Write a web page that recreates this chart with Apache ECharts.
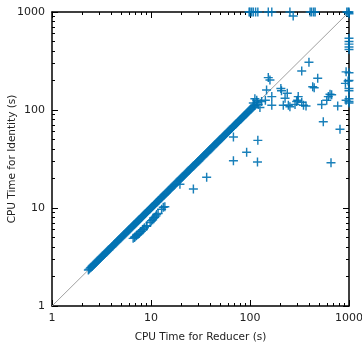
<!DOCTYPE html>
<html>
<head>
<meta charset="utf-8">
<script src="https://cdn.jsdelivr.net/npm/echarts@6/dist/echarts.min.js"></script>
<style>
html,body{margin:0;padding:0;background:#fff;}
#chart{width:362px;height:343px;}
</style>
</head>
<body>
<div id="chart"></div>
<script>
// Axis ticks
const majorTicks = [1, 10, 100, 1000];
const minorTicks = [2,3,4,5,6,7,8,9,20,30,40,50,60,70,80,90,200,300,400,500,600,700,800,900];
const xTitle = 'CPU Time for Reducer (s)';
const yTitle = 'CPU Time for Identity (s)';

// Main band: runs where both times agree (on the diagonal)
const diagonalPoints = [
 [2.33,2.33],[2.38,2.38],[2.44,2.44],[2.49,2.49],[2.55,2.55],[2.61,2.61],[2.67,2.67],[2.73,2.73],
 [2.8,2.8],[2.86,2.86],[2.93,2.93],[3.0,3.0],[3.07,3.07],[3.14,3.14],[3.21,3.21],[3.28,3.28],
 [3.36,3.36],[3.44,3.44],[3.52,3.52],[3.6,3.6],[3.68,3.68],[3.77,3.77],[3.86,3.86],[3.95,3.95],
 [4.04,4.04],[4.13,4.13],[4.23,4.23],[4.33,4.33],[4.43,4.43],[4.53,4.53],[4.63,4.63],[4.74,4.74],
 [4.85,4.85],[4.96,4.96],[5.08,5.08],[5.2,5.2],[5.32,5.32],[5.44,5.44],[5.57,5.57],[5.7,5.7],
 [5.83,5.83],[5.96,5.96],[6.1,6.1],[6.24,6.24],[6.39,6.39],[6.54,6.54],[6.69,6.69],[6.84,6.84],
 [7.0,7.0],[7.16,7.16],[7.33,7.33],[7.5,7.5],[7.68,7.68],[7.86,7.86],[8.04,8.04],[8.22,8.22],
 [8.41,8.41],[8.61,8.61],[8.81,8.81],[9.01,9.01],[9.22,9.22],[9.44,9.44],[9.66,9.66],[9.88,9.88],
 [10.1,10.1],[10.35,10.35],[10.6,10.6],[10.85,10.85],[11.1,11.1],[11.35,11.35],[11.6,11.6],[11.85,11.85],
 [12.1,12.1],[12.4,12.4],[12.7,12.7],[13.0,13.0],[13.3,13.3],[13.6,13.6],[13.9,13.9],[14.25,14.25],
 [14.6,14.6],[14.95,14.95],[15.3,15.3],[15.65,15.65],[16.0,16.0],[16.35,16.35],[16.7,16.7],[17.1,17.1],
 [17.5,17.5],[17.95,17.95],[18.4,18.4],[18.8,18.8],[19.2,19.2],[19.65,19.65],[20.1,20.1],[20.6,20.6],
 [21.1,21.1],[21.6,21.6],[22.1,22.1],[22.6,22.6],[23.1,23.1],[23.65,23.65],[24.2,24.2],[24.75,24.75],
 [25.3,25.3],[25.9,25.9],[26.5,26.5],[27.15,27.15],[27.8,27.8],[28.45,28.45],[29.1,29.1],[29.75,29.75],
 [30.4,30.4],[31.15,31.15],[31.9,31.9],[32.65,32.65],[33.4,33.4],[34.15,34.15],[34.9,34.9],[35.75,35.75],
 [36.6,36.6],[37.45,37.45],[38.3,38.3],[39.2,39.2],[40.1,40.1],[41.05,41.05],[42.0,42.0],[42.95,42.95],
 [43.9,43.9],[44.95,44.95],[46.0,46.0],[47.1,47.1],[48.2,48.2],[49.3,49.3],[50.4,50.4],[51.6,51.6],
 [52.8,52.8],[54.05,54.05],[55.3,55.3],[56.6,56.6],[57.9,57.9],[59.25,59.25],[60.6,60.6],[62.0,62.0],
 [63.4,63.4],[64.9,64.9],[66.4,66.4],[67.95,67.95],[69.5,69.5],[71.15,71.15],[72.8,72.8],[74.5,74.5],
 [76.2,76.2],[78.0,78.0],[79.8,79.8],[81.65,81.65],[83.5,83.5],[85.45,85.45],[87.4,87.4],[89.45,89.45],
 [91.5,91.5],[93.65,93.65],[95.8,95.8],[98.0,98.0],[100.3,100.3],[102.6,102.6],[105,105],[107.5,107.5],
 [110,110],[111,111],[112,112]
];

// Secondary band slightly below the diagonal
const lowerBandPoints = [
 [6.6,4.9],[6.8,5.0],[6.9,5.1],[7.1,5.2],[7.2,5.3],[7.4,5.4],[7.6,5.5],[7.8,5.7],[8.0,5.8],
 [8.2,6.0],[8.4,6.1],[8.6,6.3],[9.0,6.5],[9.1,6.6],[9.8,7.1],[10.1,7.4],[10.4,7.6],[10.6,7.9],
 [10.9,8.0],[11.2,8.3],[11.4,8.6],[11.8,8.8],[12.8,9.7],[13.3,10.2],[13.8,10.3]
];

// Scattered runs
const outlierPoints = [
 [19.6,17.5],[26.8,15.6],[36.5,20.6],[68,53],[120,49],[92.5,37],[68,30.4],[119,29.5],
 [394,307],[333,250],[483,211],[153,214],[159,202],[430,173],[445,169],[205,166],[208,157],
 [238,148],[147,160],[166,137],[117,126],[131,122],[143,126],[121,114],[126,106],[166,112],
 [226,132],[307,137],[303,126],[217,112],[244,112],[253,108],[285,114],[296,122],[333,120],
 [347,112],[368,110],[530,114],[618,137],[643,145],[668,143],[596,126],[769,110],[550,76],
 [811,63.5],[658,29],[920,187],[980,198],[935,245],[935,126],[112,130],[118,120],[108,118]
];

// Runs that hit the 1000 s limit
const timeoutTopPoints = [
 [98,1000],[100,1000],[104,1000],[108,1000],[114,1000],[120,1000],[153,1000],[166,1000],
 [253,1000],[273,910],[405,1000],[420,1000],[440,1000],[455,1000],
 [950,1000],[980,1000],[1000,1000],[990,990],[1000,960]
];
const timeoutRightPoints = [
 [1000,540],[1000,500],[1000,470],[1000,440],[1000,415],[1000,166],[1000,157],
 [1000,122],[1000,130],[1000,118],[1000,200],[1000,240]
];

const diagonalLine = [[1,1],[1000,1000]];

const plusPath = 'path://M-5,-0.8 L5,-0.8 L5,0.8 L-5,0.8 Z M-0.8,-5 L0.8,-5 L0.8,5 L-0.8,5 Z';
const blue = '#0072b2';
const fontFam = '"DejaVu Sans", sans-serif';

function majorAxis(pos, showLabel, name) {
  return {
    type: 'log', logBase: 10, min: 1, max: 1000, position: pos, gridIndex: 0,
    axisLine: {show: true, lineStyle: {color: '#000', width: 1.5}},
    axisTick: {show: true, inside: true, length: 6, customValues: majorTicks, lineStyle: {color: '#000', width: 1}},
    axisLabel: {show: showLabel, customValues: majorTicks, fontSize: 11, color: '#222', fontFamily: fontFam, margin: 7,
                formatter: function (v) { return String(Math.round(v)); }},
    splitLine: {show: false},
    name: name || '',
    nameLocation: 'middle',
    nameMoveOverlap: false,
    nameTextStyle: {fontSize: 10.5, color: '#222', fontFamily: fontFam}
  };
}
function minorAxis(pos) {
  return {
    type: 'log', logBase: 10, min: 1, max: 1000, position: pos, gridIndex: 0,
    axisLine: {show: false},
    axisTick: {show: true, inside: true, length: 3, customValues: minorTicks, lineStyle: {color: '#000', width: 1}},
    axisLabel: {show: false},
    splitLine: {show: false}
  };
}

const xb = majorAxis('bottom', true, xTitle); xb.nameGap = 26;
const yl = majorAxis('left', true, yTitle); yl.nameGap = 34;

const chart = echarts.init(document.getElementById('chart'), null, {renderer: 'canvas'});
const scatterStyle = {color: blue, opacity: 0.9};
function sc(data) {
  return {type: 'scatter', xAxisIndex: 0, yAxisIndex: 0, data: data, symbol: plusPath, symbolSize: 9,
          itemStyle: scatterStyle, z: 3, animation: false};
}
chart.setOption({
  animation: false,
  grid: {left: 52, right: 13, top: 12, bottom: 37, containLabel: false, outerBoundsMode: 'none'},
  xAxis: [xb, minorAxis('bottom'), majorAxis('top', false), minorAxis('top')],
  yAxis: [yl, minorAxis('left'), majorAxis('right', false), minorAxis('right')],
  series: [
    {type: 'line', xAxisIndex: 0, yAxisIndex: 0, data: diagonalLine, showSymbol: false, symbol: 'none',
     lineStyle: {color: '#a0a0a0', width: 1}, z: 2, animation: false},
    sc(diagonalPoints), sc(lowerBandPoints), sc(outlierPoints), sc(timeoutTopPoints), sc(timeoutRightPoints)
  ]
});
</script>
</body>
</html>
